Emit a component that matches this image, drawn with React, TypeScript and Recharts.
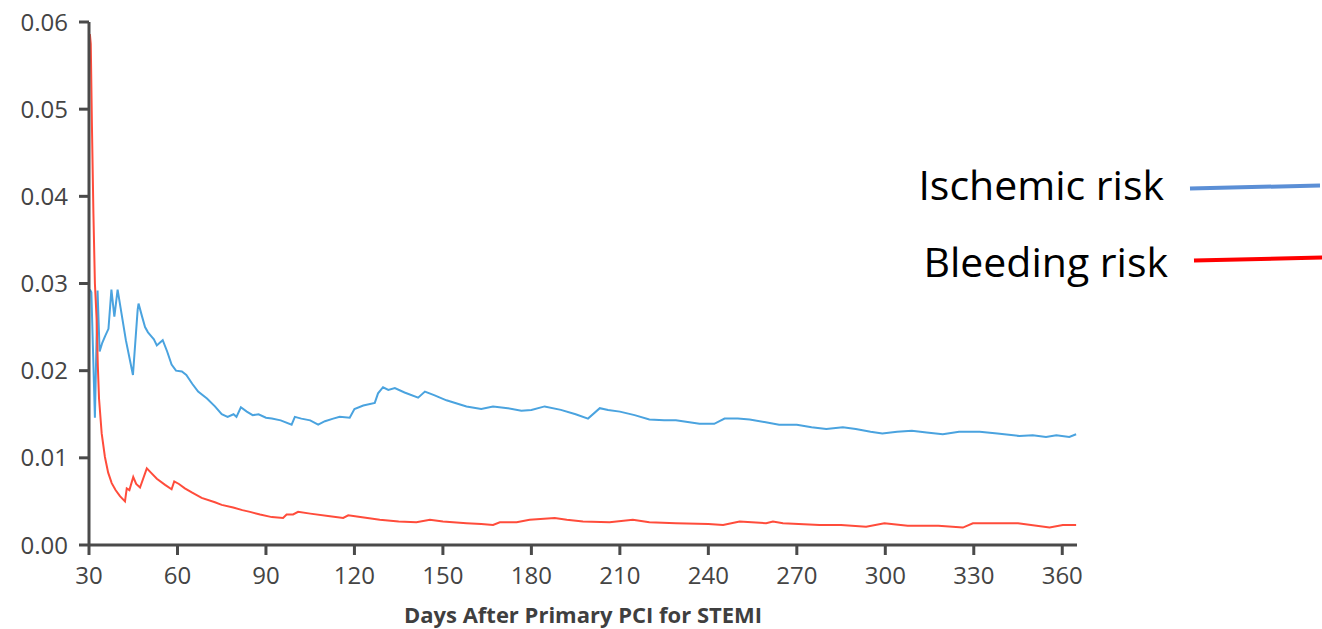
import React from 'react';
import { LineChart, Line, XAxis, YAxis, Legend, Label } from 'recharts';

// values (days after PCI, risk per day)
const ischemicDays = [
  30.3, 30.8, 32.0, 32.9, 33.6, 34.5, 35.5, 36.6, 37.6, 38.6, 39.7, 42.5, 44.9, 46.5, 46.8,
  48.0, 49.0, 50.0, 51.0, 52.0, 53.0, 54.0, 55.0, 56.5, 58.0, 59.5, 61.5, 63.0, 65.0, 67.0,
  70.0, 72.7, 75.0, 77.0, 79.0, 80.0, 81.5, 83.5, 85.5, 87.5, 90.0, 92.0, 95.0, 98.7, 99.8,
  102, 105, 107.7, 110, 112.8, 115, 118.4, 120, 123, 126.9, 128, 129.7, 131.5, 133.7, 137,
  141.6, 143.9, 147, 151.2, 155, 158, 163, 167, 172, 176.6, 180, 184.5, 190, 195, 199.2,
  203.2, 206, 210, 215, 220, 225, 229, 233, 237, 242, 245.5, 250, 254, 259, 264, 270, 275,
  280, 285.6, 290, 295, 299, 304, 309, 314, 319.5, 325, 332, 338, 345.5, 350, 354.5, 358,
  362.4, 364.7,
];
const ischemicRisk = [
  0.0293, 0.029, 0.0146, 0.0292, 0.0222, 0.0232, 0.024, 0.0248, 0.0293, 0.0262, 0.0293, 0.0235,
  0.0195, 0.027, 0.0277, 0.0262, 0.025, 0.0244, 0.024, 0.0236, 0.0229, 0.0232, 0.0235, 0.0222,
  0.0207, 0.02, 0.0199, 0.0195, 0.0185, 0.0176, 0.0168, 0.0159, 0.015, 0.0147, 0.015, 0.0147,
  0.0158, 0.0153, 0.0149, 0.015, 0.0146, 0.0145, 0.0143, 0.0138, 0.0147, 0.0145, 0.0143, 0.0138,
  0.0142, 0.0145, 0.0147, 0.0146, 0.0156, 0.016, 0.0163, 0.0174, 0.0181, 0.0178, 0.018, 0.0175,
  0.0169, 0.0176, 0.0172, 0.0166, 0.0162, 0.0159, 0.0156, 0.0159, 0.0157, 0.0154, 0.0155, 0.0159,
  0.0155, 0.015, 0.0145, 0.0157, 0.0155, 0.0153, 0.0149, 0.0144, 0.0143, 0.0143, 0.0141, 0.0139,
  0.0139, 0.0145, 0.0145, 0.0144, 0.0141, 0.0138, 0.0138, 0.0135, 0.0133, 0.0135, 0.0133, 0.013,
  0.0128, 0.013, 0.0131, 0.0129, 0.0127, 0.013, 0.013, 0.0128, 0.0125, 0.0126, 0.0124, 0.0126,
  0.0124, 0.0127,
];

const bleedingDays = [
  30.3, 30.6, 31.0, 31.5, 32.0, 32.6, 33.0, 33.4, 34.3, 35.4, 36.5, 37.7, 39, 40.5, 42.2, 42.8,
  43.7, 45, 46, 47.3, 49.6, 51, 53, 55.8, 58, 58.9, 60.5, 62.5, 65, 68.2, 72.7, 75, 78.9, 82,
  84.6, 88, 92, 95.8, 97, 99.2, 100.9, 105, 111.7, 116.2, 117.9, 122, 128.6, 135, 141, 145.6,
  150, 158, 163, 167, 169.3, 175, 179.4, 187.9, 192, 197.5, 206.5, 214.4, 220, 229, 240, 245,
  250.6, 259.6, 261.9, 265.3, 277.7, 285, 293.5, 299.7, 307.6, 318, 326.3, 329.7, 345, 355.7,
  360.2, 364.7,
];
const bleedingRisk = [
  0.0586, 0.0575, 0.048, 0.038, 0.03, 0.0258, 0.0205, 0.0168, 0.0128, 0.0101, 0.0083, 0.0071,
  0.0063, 0.0056, 0.005, 0.0065, 0.0063, 0.0078, 0.007, 0.0066, 0.0088, 0.0083, 0.0076, 0.0069,
  0.0064, 0.0073, 0.007, 0.0065, 0.006, 0.0054, 0.0049, 0.0046, 0.0043, 0.004, 0.0038, 0.0035,
  0.0032, 0.0031, 0.0035, 0.0035, 0.0038, 0.0036, 0.0033, 0.0031, 0.0034, 0.0032, 0.0029, 0.0027,
  0.0026, 0.0029, 0.0027, 0.0025, 0.0024, 0.0023, 0.0026, 0.0026, 0.0029, 0.0031, 0.0029, 0.0027,
  0.0026, 0.0029, 0.0026, 0.0025, 0.0024, 0.0023, 0.0027, 0.0025, 0.0027, 0.0025, 0.0023, 0.0023,
  0.0021, 0.0025, 0.0022, 0.0022, 0.002, 0.0025, 0.0025, 0.002, 0.0023, 0.0023,
];

const dayTicks = [30, 60, 90, 120, 150, 180, 210, 240, 270, 300, 330, 360];
const riskTicks = [0, 0.01, 0.02, 0.03, 0.04, 0.05, 0.06];
const seriesNames = ['Ischemic risk', 'Bleeding risk'];

const ischemicData = ischemicDays.map((day, i) => ({ day, risk: ischemicRisk[i] }));
const bleedingData = bleedingDays.map((day, i) => ({ day, risk: bleedingRisk[i] }));

// the legend swatches in the figure use brighter colours than the curves
const legendColors: Record<string, string> = {
  'Ischemic risk': '#5b8fd6',
  'Bleeding risk': '#ff0000',
};

const font = '"Open Sans", sans-serif';

const LegendBox = ({ payload }: any) => {
  const items = [...(payload || [])].sort(
    (a: any, b: any) => seriesNames.indexOf(a.value) - seriesNames.indexOf(b.value)
  );
  return (
    <svg width={422} height={150} style={{ display: 'block' }}>
      {items.map((entry: any, i: number) => {
        const base = i === 0 ? 50 : 127;
        const lineY = i === 0 ? 37 : 109;
        const right = i === 0 ? 264 : 268;
        return (
          <g key={entry.value}>
            <text x={right} y={base} textAnchor="end" fontSize={41} fontFamily={font} fill="#000">
              {entry.value}
            </text>
            <line
              x1={right + 26}
              y1={lineY + 1.5}
              x2={right + 156}
              y2={lineY - 1.5}
              stroke={legendColors[entry.value]}
              strokeWidth={4}
            />
          </g>
        );
      })}
    </svg>
  );
};

const App: React.FC = () => {
  const axisStroke = { stroke: '#4a4a4a', strokeWidth: 3 };
  const tickStyle = { fill: '#444', fontSize: 24, fontFamily: font };

  return (
    <div style={{ position: 'absolute', left: 0, top: 0, width: 1322, height: 629, background: '#fff' }}>
      <LineChart width={1322} height={629} margin={{ top: 22, right: 245, bottom: 0, left: 0 }}>
        <XAxis
          type="number"
          dataKey="day"
          domain={[30, 365]}
          ticks={dayTicks}
          height={84}
          axisLine={axisStroke}
          tickLine={axisStroke}
          tickSize={10}
          tickMargin={12}
          tick={tickStyle}
        >
          <Label
            value="Days After Primary PCI for STEMI"
            position="insideBottom"
            offset={6}
            fontSize={22}
            fontWeight={700}
            fontFamily={font}
            fill="#3f3f3f"
          />
        </XAxis>
        <YAxis
          type="number"
          domain={[0, 0.06]}
          ticks={riskTicks}
          width={89}
          axisLine={axisStroke}
          tickLine={axisStroke}
          tickSize={10}
          tickMargin={11}
          tick={tickStyle}
          tickFormatter={(v: number) => v.toFixed(2)}
        />
        <Legend
          layout="horizontal"
          verticalAlign="middle"
          align="center"
          wrapperStyle={{ left: 900, top: 150, width: 422, height: 150 }}
          content={<LegendBox />}
        />
        <Line
          data={ischemicData}
          dataKey="risk"
          name="Ischemic risk"
          type="linear"
          stroke="#4aa3df"
          strokeWidth={2}
          dot={false}
          isAnimationActive={false}
        />
        <Line
          data={bleedingData}
          dataKey="risk"
          name="Bleeding risk"
          type="linear"
          stroke="#ff4c3b"
          strokeWidth={2}
          dot={false}
          isAnimationActive={false}
        />
      </LineChart>
    </div>
  );
};

export default App;
